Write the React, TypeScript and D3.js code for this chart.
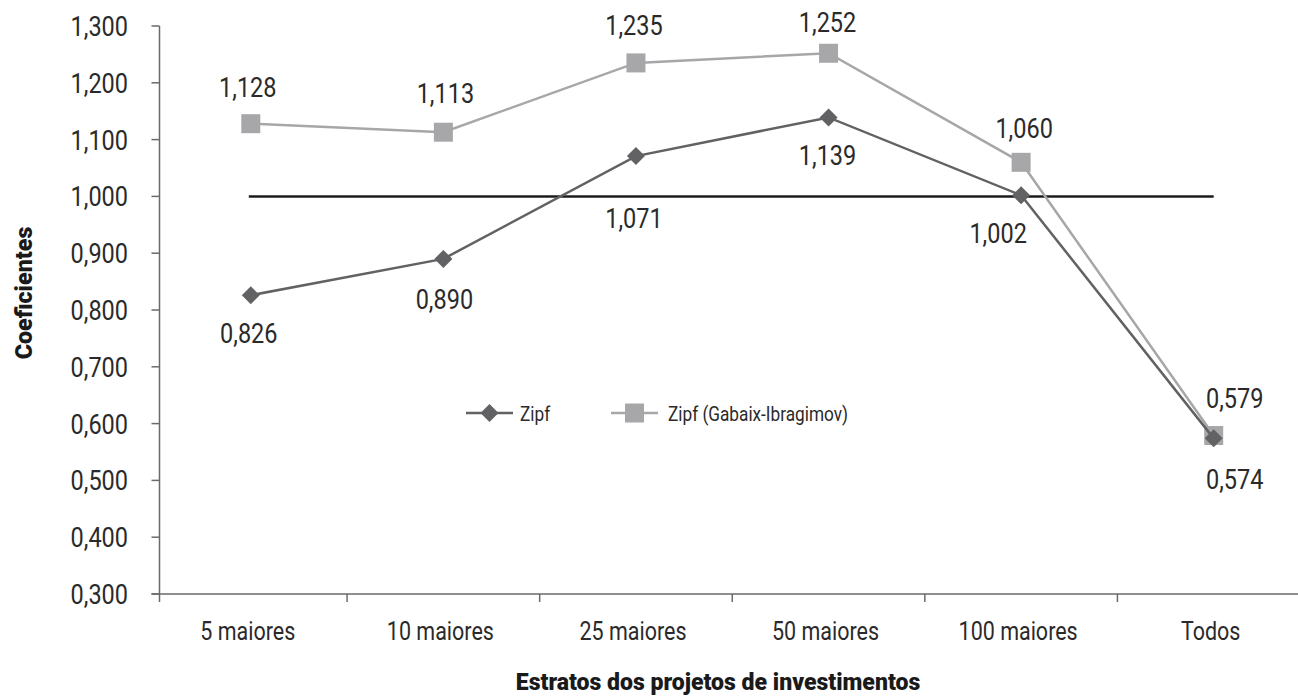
import React from "react";
import * as d3 from "d3";

const categories = ["5 maiores", "10 maiores", "25 maiores", "50 maiores", "100 maiores", "Todos"];
const zipfValues = [0.826, 0.89, 1.071, 1.139, 1.002, 0.574];
const gabaixValues = [1.128, 1.113, 1.235, 1.252, 1.06, 0.579];
const yTickValues = [0.3, 0.4, 0.5, 0.6, 0.7, 0.8, 0.9, 1.0, 1.1, 1.2, 1.3];
const referenceValue = 1.0;
const seriesNames = ["Zipf", "Zipf (Gabaix-Ibragimov)"];
const xTitle = "Estratos dos projetos de investimentos";
const yTitle = "Coeficientes";

// label placement offsets (style)
const zipfLabelDx = [-2, 1, -2, -1, -23, 21];
const zipfLabelDy = [48, 50, 72, 48, 48, 51];
const gabaixLabelDx = [-3, 2, -2, -1, 3, 21];
const gabaixLabelDy = [-27, -29, -28, -21, -24, -28];

const W = 1298;
const H = 697;
const FONT = "Roboto, 'DejaVu Sans Condensed', sans-serif";

const locale = d3.formatLocale({ decimal: ",", thousands: ".", grouping: [3], currency: ["", ""] });
const fmt = locale.format(".3f");

const ZIPF_COLOR = "#626265";
const GABAIX_COLOR = "#a7a7a9";
const AXIS_COLOR = "#6a6a6a";
const TEXT_COLOR = "#2a2a2a";

type TProps = {
  x: number;
  y: number;
  sx: number;
  size: number;
  anchor?: "start" | "middle" | "end";
  weight?: string | number;
  fill?: string;
  rotate?: number;
  children: React.ReactNode;
};

function CText({ x, y, sx, size, anchor = "middle", weight = "normal", fill = TEXT_COLOR, rotate = 0, children }: TProps) {
  return (
    <text
      transform={`translate(${x},${y}) rotate(${rotate}) scale(${sx},1)`}
      textAnchor={anchor}
      fontSize={size}
      fontWeight={weight}
      fill={fill}
    >
      {children}
    </text>
  );
}

export default function App() {
  const x = d3.scaleBand<string>().domain(categories).range([154.5, 1310]).paddingInner(0).paddingOuter(0);
  const y = d3.scaleLinear().domain([0.3, 1.3]).range([594, 26]);
  const cx = (c: string) => (x(c) as number) + x.bandwidth() / 2;
  const axisX = 159.5;

  const line = d3
    .line<number>()
    .x((_, i) => cx(categories[i]))
    .y((d) => y(d));

  const diamond = (px: number, py: number, r: number) =>
    `M${px},${py - r}L${px + r},${py}L${px},${py + r}L${px - r},${py}Z`;

  const boundaries = categories.slice(1).map((c) => x(c) as number);
  const NUM_SX = 0.87;
  const NUM_SIZE = 27;

  return (
    <svg
      width={W}
      height={H}
      style={{ position: "absolute", left: 0, top: 0, background: "#fff" }}
      fontFamily={FONT}
    >
      {/* y axis */}
      <line x1={axisX} x2={axisX} y1={y(1.3)} y2={y(0.3)} stroke={AXIS_COLOR} strokeWidth={1.5} />
      {yTickValues.map((t) => (
        <g key={t}>
          <line x1={axisX - 8} x2={axisX} y1={y(t)} y2={y(t)} stroke={AXIS_COLOR} strokeWidth={1.5} />
          <CText x={128} y={y(t) + 10} sx={NUM_SX} size={NUM_SIZE} anchor="end">
            {fmt(t)}
          </CText>
        </g>
      ))}
      {/* x axis */}
      <line x1={axisX - 8} x2={W} y1={y(0.3)} y2={y(0.3)} stroke={AXIS_COLOR} strokeWidth={1.5} />
      <line x1={axisX} x2={axisX} y1={y(0.3)} y2={y(0.3) + 8} stroke={AXIS_COLOR} strokeWidth={1.5} />
      {boundaries.map((b, i) => (
        <line key={i} x1={b} x2={b} y1={y(0.3)} y2={y(0.3) + 8} stroke={AXIS_COLOR} strokeWidth={1.5} />
      ))}
      {categories.map((c) => (
        <CText key={c} x={cx(c) - 3} y={640} sx={0.86} size={25}>
          {c}
        </CText>
      ))}
      {/* titles */}
      <CText x={718} y={690} sx={0.96} size={24} weight={900} fill="#1a1a1a">
        {xTitle}
      </CText>
      <CText x={32} y={293} sx={0.97} size={24} weight={900} fill="#1a1a1a" rotate={-90}>
        {yTitle}
      </CText>

      {/* reference line */}
      <line
        x1={cx(categories[0]) - 2}
        x2={cx(categories[categories.length - 1])}
        y1={y(referenceValue)}
        y2={y(referenceValue)}
        stroke="#1c1c1c"
        strokeWidth={2.5}
      />

      {/* Gabaix series */}
      <path d={line(gabaixValues) || ""} fill="none" stroke={GABAIX_COLOR} strokeWidth={2.5} />
      {gabaixValues.map((v, i) => (
        <rect
          key={i}
          x={cx(categories[i]) - 9.5}
          y={y(v) - 9.5}
          width={19}
          height={19}
          fill={GABAIX_COLOR}
        />
      ))}
      {/* Zipf series */}
      <path d={line(zipfValues) || ""} fill="none" stroke={ZIPF_COLOR} strokeWidth={2.5} />
      {zipfValues.map((v, i) => (
        <path key={i} d={diamond(cx(categories[i]), y(v), 9)} fill={ZIPF_COLOR} />
      ))}

      {/* data labels */}
      {gabaixValues.map((v, i) => (
        <CText
          key={"g" + i}
          x={cx(categories[i]) + gabaixLabelDx[i]}
          y={y(v) + gabaixLabelDy[i]}
          sx={NUM_SX}
          size={NUM_SIZE}
        >
          {fmt(v)}
        </CText>
      ))}
      {zipfValues.map((v, i) => (
        <CText
          key={"z" + i}
          x={cx(categories[i]) + zipfLabelDx[i]}
          y={y(v) + zipfLabelDy[i]}
          sx={NUM_SX}
          size={NUM_SIZE}
        >
          {fmt(v)}
        </CText>
      ))}

      {/* legend */}
      <g>
        <line x1={466} x2={513} y1={413} y2={413} stroke={ZIPF_COLOR} strokeWidth={2.5} />
        <path d={diamond(489.5, 413, 9)} fill={ZIPF_COLOR} />
        <CText x={520} y={421} sx={0.82} size={21} anchor="start">
          {seriesNames[0]}
        </CText>
        <line x1={611} x2={658} y1={413} y2={413} stroke={GABAIX_COLOR} strokeWidth={2.5} />
        <rect x={625} y={403.5} width={19} height={19} fill={GABAIX_COLOR} />
        <CText x={668} y={421} sx={0.82} size={21} anchor="start">
          {seriesNames[1]}
        </CText>
      </g>
    </svg>
  );
}
